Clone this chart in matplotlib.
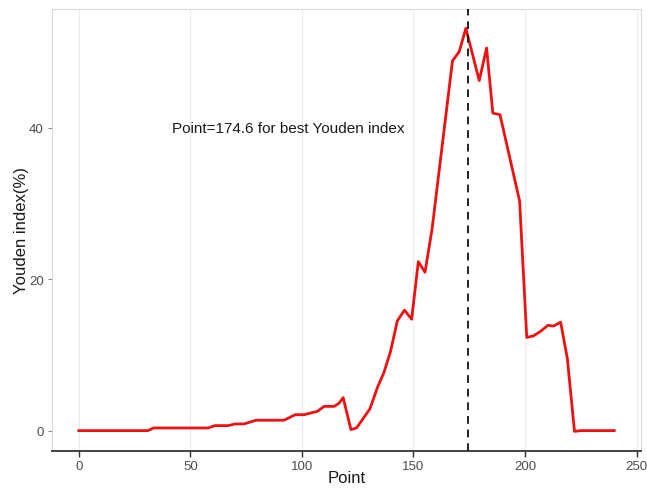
import matplotlib
matplotlib.use("Agg")
import matplotlib.pyplot as plt

plt.rcParams["font.family"] = ["Liberation Sans", "DejaVu Sans"]

# values
point = [0, 31, 33.5, 58, 61, 67, 70, 74, 79.5, 92, 97, 101, 107, 110, 114.5,
         116.6, 118.5, 122, 124.5, 130.5, 134, 136.7, 139.7, 142.8, 146, 149.2,
         152.2, 155.2, 158.4, 167.5, 170.5, 173.5, 179.5, 182.8, 185.6, 188.8,
         197.6, 200.8, 203.8, 207, 210.3, 212.8, 216, 219, 222.2, 225, 240]
youden = [0, 0, 0.35, 0.35, 0.66, 0.66, 0.88, 0.88, 1.37, 1.37, 2.1, 2.1, 2.55,
          3.2, 3.2, 3.6, 4.35, 0.13, 0.35, 2.87, 5.8, 7.6, 10.4, 14.5, 15.9, 14.7,
          22.3, 20.9, 26.7, 48.8, 50.0, 53.1, 46.2, 50.5, 41.9, 41.7,
          30.3, 12.3, 12.5, 13.1, 13.9, 13.8, 14.3, 9.5, -0.1, 0, 0]
best_point = 174.6
label = "Point=174.6 for best Youden index"

fig = plt.figure(figsize=(6.47, 4.89), dpi=100)
ax = fig.add_axes([0.0804, 0.0763, 0.9103, 0.9033])

ax.plot(point, youden, color="#ee1111", lw=2.0, zorder=3)
ax.axvline(best_point, color="#222222", lw=1.4, ls=(0, (4, 3)), zorder=4)
ax.text(94, 40, label, ha="center", va="center", fontsize=11, color="#1a1a1a")

ax.set_xlim(-12, 252)
ax.set_ylim(-2.65, 55.65)
ax.set_xticks([0, 50, 100, 150, 200, 250])
ax.set_yticks([0, 20, 40])
ax.grid(True, axis="x", color="#ebebeb", lw=0.8)
ax.set_axisbelow(True)

for s in ["top", "left", "right"]:
    ax.spines[s].set_color("#d9d9d9")
    ax.spines[s].set_linewidth(0.8)
ax.spines["bottom"].set_color("#333333")
ax.spines["bottom"].set_linewidth(1.3)

ax.tick_params(axis="x", colors="#4d4d4d", labelsize=9.5, length=4, width=1, pad=3)
ax.tick_params(axis="x", color="#333333")
ax.tick_params(axis="y", colors="#4d4d4d", labelsize=9.5, length=3, width=0.8, pad=3)
ax.tick_params(axis="y", color="#888888")

ax.set_xlabel("Point", fontsize=12, color="#1a1a1a")
ax.set_ylabel("Youden index(%)", fontsize=12, color="#1a1a1a")
ax.xaxis.set_label_coords(0.5, -0.06)
ax.xaxis.label.set_va("center")
ax.yaxis.set_label_coords(-0.051, 0.5)
ax.yaxis.label.set_va("center")

fig.savefig("out.png", dpi=100)
